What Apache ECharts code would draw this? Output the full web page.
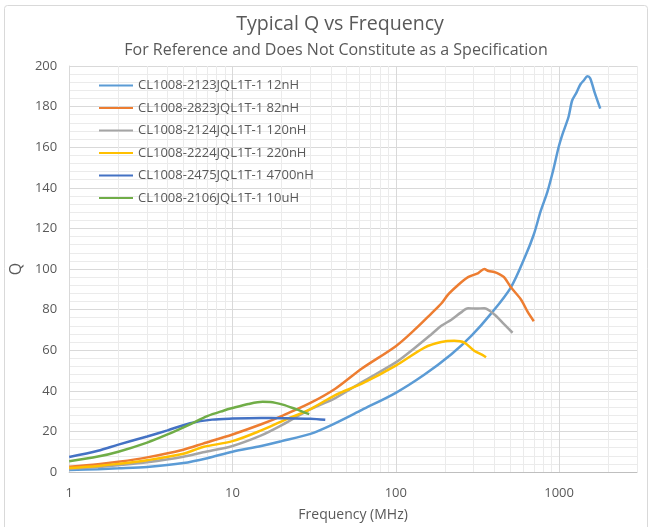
<!DOCTYPE html>
<html>
<head>
<meta charset="utf-8">
<script src="https://cdn.jsdelivr.net/npm/echarts@6/dist/echarts.min.js"></script>
<style>
html,body{margin:0;padding:0;background:#fff;}
#chart{width:656px;height:527px;}
</style>
</head>
<body>
<div id="chart"></div>
<script>
// ---- data ----
const seriesNames = [
  'CL1008-2123JQL1T-1 12nH',
  'CL1008-2823JQL1T-1 82nH',
  'CL1008-2124JQL1T-1 120nH',
  'CL1008-2224JQL1T-1 220nH',
  'CL1008-2475JQL1T-1 4700nH',
  'CL1008-2106JQL1T-1 10uH'
];
const seriesColors = ['#5B9BD5', '#ED7D31', '#A5A5A5', '#FFC000', '#4472C4', '#70AD47'];

const freq12nH = [1, 1.5, 2, 3, 5, 7, 10, 15, 20, 30, 40, 62, 100, 150, 219, 290, 383, 507, 626, 700, 772, 848, 926, 993, 1045, 1143, 1202, 1280, 1352, 1420, 1490, 1550, 1650, 1787];
const q12nH    = [1.0, 1.4, 1.8, 2.5, 4.4, 6.8, 10, 12.8, 15.2, 18.8, 23, 30.6, 39, 48, 58, 67, 78, 91, 107, 117, 128.6, 138, 149.5, 160, 166, 175, 183, 187, 191, 193, 195, 194, 187, 179];

const freq82nH = [1, 1.5, 2, 3, 5, 6.6, 10, 15, 20.3, 30, 42.6, 62, 100, 130, 166, 190, 209, 240, 277, 320, 348, 370, 400, 430, 460, 507, 584, 641, 700];
const q82nH    = [2.6, 3.8, 5.0, 7.2, 11, 14, 18.5, 23.5, 27.8, 34, 41, 51, 62, 70, 78.3, 83, 87.4, 92, 96, 98, 100, 99, 98.5, 97.5, 96, 91, 85, 79, 74.3];

const freq120nH = [1, 1.5, 2, 3, 5, 6.6, 10, 15, 20.3, 29.5, 42.6, 62, 100, 130, 166, 190, 219, 250, 277, 310, 348, 400, 460, 519];
const q120nH    = [1.5, 2.4, 3.3, 4.8, 7.5, 9.7, 12.8, 18, 23.3, 30.6, 36.4, 44.3, 54, 61, 68, 72, 75, 78.5, 80.7, 80.5, 80.7, 77.7, 72.8, 68.6];

const freq220nH = [1, 1.5, 2, 3, 5, 6.6, 10, 15, 20.3, 30, 42.6, 62, 100, 150, 190, 228, 263, 302, 341, 357];
const q220nH    = [2.0, 3.0, 4.0, 5.8, 9, 12.3, 15.2, 20.5, 25.2, 31, 37.9, 43.5, 52.4, 61.3, 64, 64.6, 63.7, 59.7, 57.6, 56.5];

const freq4700nH = [1, 1.5, 2, 3, 4, 5.5, 7.5, 10, 15, 20, 30, 37];
const q4700nH    = [7.4, 10.5, 13.5, 17.5, 20.5, 24, 25.8, 26.3, 26.6, 26.5, 26.2, 25.7];

const freq10uH = [1, 1.5, 2, 3, 4, 5.5, 7, 8.8, 10, 12.5, 15.3, 17, 20.3, 24.4, 29.5];
const q10uH    = [5.3, 7.6, 10, 14.5, 18.5, 23.5, 27.5, 30.2, 31.5, 33.5, 34.6, 34.5, 33.2, 31, 28.5];

const xMinorGrid = [2, 3, 4, 5, 6, 7, 8, 9, 20, 30, 40, 50, 60, 70, 80, 90, 200, 300, 400, 500, 600, 700, 800, 900, 2000, 3000];

const titleText = 'Typical Q vs Frequency';
const subtitleText = 'For Reference and Does Not Constitute as a Specification';
const xAxisName = 'Frequency (MHz)';
const yAxisName = 'Q';

// ---- build ----
const freqs = [freq12nH, freq82nH, freq120nH, freq220nH, freq4700nH, freq10uH];
const qs = [q12nH, q82nH, q120nH, q220nH, q4700nH, q10uH];
const FONT = '"Open Sans", sans-serif';
const TXT = '#595959';

const dataSeries = seriesNames.map((name, i) => ({
  name: name,
  type: 'line',
  smooth: 0.3,
  symbol: 'none',
  z: 3,
  lineStyle: { width: 2.5, color: seriesColors[i] },
  itemStyle: { color: seriesColors[i] },
  data: freqs[i].map((f, k) => [f, qs[i][k]])
}));

const gridSeries = {
  name: '_minor',
  type: 'line',
  data: [],
  silent: true,
  z: 1,
  markLine: {
    silent: true,
    z: 1,
    symbol: ['none', 'none'],
    label: { show: false },
    lineStyle: { color: '#EBEBEB', width: 1, type: 'solid' },
    emphasis: { disabled: true },
    animation: false,
    data: xMinorGrid.map(v => ({ xAxis: v }))
  }
};

const chart = echarts.init(document.getElementById('chart'), null, { renderer: 'canvas' });
chart.setOption({
  animation: false,
  backgroundColor: '#fff',
  graphic: [{
    type: 'rect',
    z: 0,
    shape: { x: 4.5, y: 5.5, width: 643, height: 540, r: 3 },
    style: { fill: 'none', stroke: '#D9D9D9', lineWidth: 1 },
    silent: true
  }],
  title: [
    { text: titleText, left: 335, top: 9, textAlign: 'center',
      textStyle: { fontFamily: FONT, fontSize: 19.6, fontWeight: 'normal', color: TXT } },
    { text: subtitleText, left: 331, top: 37, textAlign: 'center',
      textStyle: { fontFamily: FONT, fontSize: 16, fontWeight: 'normal', color: TXT } }
  ],
  legend: {
    data: seriesNames,
    orient: 'vertical',
    left: 98,
    top: 79,
    padding: 0,
    itemWidth: 34,
    itemHeight: 14,
    itemGap: 9.5,
    itemStyle: { opacity: 0 },
    textStyle: { fontFamily: FONT, fontSize: 13, color: TXT },
    selectedMode: false
  },
  grid: { left: 65, right: 19, top: 66, bottom: 49, containLabel: false },
  xAxis: {
    type: 'log',
    logBase: 10,
    min: 1,
    max: 3000,
    name: xAxisName,
    nameLocation: 'middle',
    nameGap: 36,
    nameTextStyle: { fontFamily: FONT, fontSize: 14, color: TXT },
    axisLine: { show: true, lineStyle: { color: '#BFBFBF', width: 1 } },
    axisTick: { show: false },
    axisLabel: {
      fontFamily: FONT, fontSize: 13, color: TXT, margin: 15, showMaxLabel: false,
      formatter: v => String(Math.round(v))
    },
    splitLine: { show: true, lineStyle: { color: '#D9D9D9', width: 1 } }
  },
  yAxis: {
    type: 'value',
    min: 0,
    max: 200,
    interval: 20,
    name: yAxisName,
    nameLocation: 'middle',
    nameGap: 44,
    nameTextStyle: { fontFamily: FONT, fontSize: 16, color: TXT },
    axisLine: { show: true, lineStyle: { color: '#D9D9D9', width: 1 } },
    axisTick: { show: false },
    axisLabel: { fontFamily: FONT, fontSize: 13, color: TXT, margin: 12 },
    splitLine: { show: true, lineStyle: { color: '#D9D9D9', width: 1 } },
    minorTick: { show: false, splitNumber: 5 },
    minorSplitLine: { show: true, lineStyle: { color: '#EBEBEB', width: 1 } }
  },
  series: [gridSeries].concat(dataSeries)
});
</script>
</body>
</html>
